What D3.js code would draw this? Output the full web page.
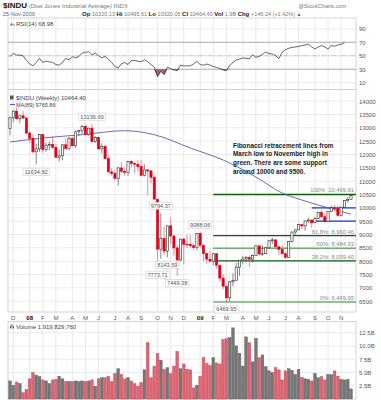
<!DOCTYPE html>
<html>
<head>
<meta charset="utf-8">
<script src="https://cdnjs.cloudflare.com/ajax/libs/d3/7.8.5/d3.min.js"></script>
<style>
    body { margin: 0; background: #fff; }
    svg { display: block; font-family: "Liberation Sans", Arial, sans-serif; }
    .axis-label { font-size: 6px; fill: #555; }
    .legend { font-size: 6px; fill: #444; }
</style>
</head>
<body>
<svg id="chart" width="381" height="400"></svg>
<script>
const weeks = [
    '2007-11-26', '2007-12-03', '2007-12-10', '2007-12-17', '2007-12-24', '2007-12-31',
    '2008-01-07', '2008-01-14', '2008-01-21', '2008-01-28', '2008-02-04', '2008-02-11', '2008-02-18', '2008-02-25',
    '2008-03-03', '2008-03-10', '2008-03-17', '2008-03-24', '2008-03-31', '2008-04-07', '2008-04-14', '2008-04-21',
    '2008-04-28', '2008-05-05', '2008-05-12', '2008-05-19', '2008-05-26', '2008-06-02', '2008-06-09', '2008-06-16',
    '2008-06-23', '2008-06-30', '2008-07-07', '2008-07-14', '2008-07-21', '2008-07-28', '2008-08-04', '2008-08-11',
    '2008-08-18', '2008-08-25', '2008-09-01', '2008-09-08', '2008-09-15', '2008-09-22', '2008-09-29', '2008-10-06',
    '2008-10-13', '2008-10-20', '2008-10-27', '2008-11-03', '2008-11-10', '2008-11-17', '2008-11-24', '2008-12-01',
    '2008-12-08', '2008-12-15', '2008-12-22', '2008-12-29',
    '2009-01-05', '2009-01-12', '2009-01-19', '2009-01-26', '2009-02-02', '2009-02-09', '2009-02-16', '2009-02-23',
    '2009-03-02', '2009-03-09', '2009-03-16', '2009-03-23', '2009-03-30', '2009-04-06', '2009-04-13', '2009-04-20',
    '2009-04-27', '2009-05-04', '2009-05-11', '2009-05-18', '2009-05-25', '2009-06-01', '2009-06-08', '2009-06-15',
    '2009-06-22', '2009-06-29', '2009-07-06', '2009-07-13', '2009-07-20', '2009-07-27', '2009-08-03', '2009-08-10',
    '2009-08-17', '2009-08-24', '2009-08-31', '2009-09-07', '2009-09-14', '2009-09-21', '2009-09-28', '2009-10-05',
    '2009-10-12', '2009-10-19', '2009-10-26', '2009-11-02', '2009-11-09', '2009-11-16', '2009-11-23'
];

const opens = [
    12980, 13372, 13625, 13339, 13450, 13366,
    12800, 12606, 12099, 12207, 12743, 12182, 12348, 12381, 12266, 11894, 11951, 12361, 12216, 12609, 12325, 12849,
    12891, 13058, 12745, 12986, 12480, 12638, 12210, 12307, 11843, 11346, 11289, 11100, 11496, 11370, 11326, 11734,
    11659, 11628, 11543, 11220, 11421, 11388, 11143, 10325, 8451, 8852, 8378, 9325, 8943, 8497, 8046, 8829,
    8635, 8629, 8579, 8515,
    9034, 8599, 8281, 8077, 8001, 8280, 7850, 7366, 7062, 6627, 7224, 7279, 7776, 8018, 8083, 8131,
    8076, 8212, 8575, 8268, 8277, 8500, 8764, 8799, 8539, 8438, 8280, 8146, 8743, 9093, 9172, 9370,
    9321, 9505, 9544, 9441, 9605, 9820, 9665, 9488, 9865, 9996, 9972, 9713, 10023, 10270, 10320.13
];
const highs = [
    13420, 13660, 13750, 13460, 13630, 13400,
    12880, 12750, 12400, 12770, 12760, 12440, 12480, 12700, 12400, 12190, 12400, 12620, 12660, 12640, 12900, 12930,
    13100, 13100, 13000, 13136.69, 12690, 12660, 12410, 12350, 11990, 11490, 11420, 11530, 11700, 11500, 11750, 11810,
    11700, 11790, 11790, 11630, 11430, 11400, 11200, 10330, 9794.37, 9300, 9330, 9650, 9000, 8600, 8840, 8860,
    9000, 8980, 8680, 9050,
    9088.06, 8620, 8300, 8400, 8300, 8310, 7870, 7500, 7070, 7250, 7550, 7930, 8020, 8200, 8200, 8200,
    8240, 8600, 8600, 8590, 8550, 8800, 8880, 8820, 8560, 8600, 8330, 8760, 9100, 9200, 9400, 9400,
    9540, 9630, 9550, 9650, 9860, 9920, 9790, 9880, 10090, 10120, 10090, 10050, 10290, 10410, 10495.61
];
const lows = [
    12720, 13220, 13300, 13170, 13330, 12780,
    12440, 12050, 11634.82, 12100, 12060, 12100, 12160, 12230, 11900, 11730, 11780, 12190, 12170, 12300, 12240, 12700,
    12770, 12700, 12700, 12450, 12430, 12180, 12040, 11800, 11330, 11200, 11050, 10827, 11300, 11200, 11200, 11520,
    11300, 11370, 11180, 11180, 10460, 10920, 10370, 7773.71, 8090, 8250, 8143.59, 8650, 8200, 7449.38, 8000, 7880,
    8500, 8500, 8420, 8400,
    8500, 8000, 7900, 7950, 7850, 7720, 7230, 6950, 6469.95, 6500, 7050, 7260, 7450, 7880, 7950, 7780,
    7930, 8200, 8220, 8200, 8270, 8480, 8650, 8480, 8220, 8240, 8090, 8140, 8700, 8970, 9170, 9200,
    9140, 9430, 9250, 9430, 9570, 9650, 9430, 9480, 9850, 9870, 9670, 9680, 10010, 10190, 10320.05
];
const closes = [
    13372, 13625, 13339, 13450, 13366, 12800,
    12606, 12099, 12207, 12743, 12182, 12348, 12381, 12266, 11894, 11951, 12361, 12216, 12609, 12325, 12849, 12891,
    13058, 12745, 12986, 12480, 12638, 12210, 12307, 11843, 11346, 11289, 11100, 11496, 11370, 11326, 11734, 11659,
    11628, 11543, 11220, 11421, 11388, 11143, 10325, 8451, 8852, 8378, 9325, 8943, 8497, 8046, 8829, 8635,
    8629, 8579, 8515, 9034,
    8599, 8281, 8077, 8001, 8280, 7850, 7366, 7062, 6627, 7224, 7279, 7776, 8018, 8083, 8131, 8076,
    8212, 8575, 8268, 8277, 8500, 8764, 8799, 8539, 8438, 8280, 8146, 8743, 9093, 9172, 9370, 9321,
    9505, 9544, 9441, 9605, 9820, 9665, 9488, 9865, 9996, 9972, 9713, 10023, 10270, 10318, 10464.40
];

// weekly volume, billions of shares
const volumes = [
    3.4, 2.6, 3.2, 2.9, 1.2, 1.8,
    3.8, 5.0, 4.5, 4.2, 3.6, 3.4, 2.9, 3.6, 3.7, 4.3, 3.8, 3.3, 3.3, 3.3, 3.4, 3.3,
    3.4, 3.3, 3.4, 3.6, 2.4, 3.8, 4.0, 4.0, 4.3, 3.3, 4.8, 5.7, 4.6, 3.8, 4.0, 3.4,
    2.9, 2.4, 3.1, 5.5, 10.6, 4.0, 6.2, 8.6, 7.3, 5.6, 5.9, 4.8, 6.2, 9.0, 5.7, 6.6,
    5.6, 5.5, 2.1, 2.6,
    4.3, 7.8, 6.7, 6.3, 7.8, 6.8, 6.6, 11.2, 11.4, 11.6, 13.4, 10.0, 8.6, 6.2, 11.7, 10.6,
    7.0, 11.4, 7.8, 8.3, 6.1, 5.3, 5.0, 5.9, 5.5, 3.6, 5.3, 5.7, 5.4, 4.6, 5.6, 4.1,
    3.8, 3.7, 3.4, 4.8, 4.0, 4.2, 3.6, 4.6, 4.6, 5.3, 4.3, 3.7, 3.6, 3.7, 1.9
];

const rsiValues = [
    48.7, 53.7, 51, 51, 50, 43,
    38, 35, 40, 46, 40, 42, 41, 40, 37, 36, 40, 46, 44, 48.7, 47, 49,
    54, 55, 56, 51, 54, 50, 47, 49, 45, 40, 34, 32, 38, 40, 37, 43,
    43, 42, 41, 44, 41, 37, 33, 19, 27, 22, 33, 31, 29, 28, 36, 35,
    35, 35, 38, 41.7,
    37, 36, 37.8, 36, 34, 32.8, 31, 29, 28, 35.8, 40, 43.7, 45, 46.7, 46, 45.7,
    51.6, 47.7, 49, 52, 55.6, 53, 52.6, 50, 45.7, 55, 59, 61, 62.5, 63, 63.9, 65,
    66, 67, 63, 60, 63, 65, 63, 60, 65.5, 64, 66, 67, 68.98
];

// MA(89)
const maWeeks = ['2007-11-26', '2008-02-04', '2008-04-28', '2008-07-28', '2008-09-29', '2008-12-15',
    '2009-02-23', '2009-05-04', '2009-06-29', '2009-08-10', '2009-09-14', '2009-11-23'];
const maValues = [12467, 12617, 12741, 12891, 12741, 12242, 11792, 11155, 10555, 10293, 10105, 9765.86];

const peakWeeks = [25, 46, 58];
const troughWeeks = [8, 45, 48, 51, 66];

const fibPct = ['0%', '38.2%', '50%', '61.8%', '100%'];
const fibValues = [6469.95, 8009.40, 8484.93, 8960.46, 10499.91];
const fibStart = '2009-02-02';
const supportLevels = [10000, 9500];
const supportStart = '2009-08-31';

const priceTicks = [6500, 7000, 7500, 8000, 8500, 9000, 9500, 10000, 10500, 11000, 11500, 12000, 12500, 13000, 13500, 14000];
const rsiTicks = [10, 30, 50, 70, 90];
const volTicks = [2.5, 5.0, 7.5, 10.0, 12.5];

const note = [
    'Fibonacci retracement lines from',
    'March low to November high in',
    'green. There are some support',
    'around 10000 and 9500.'
];

const LEFT = 8;
const RIGHT = 356;
const RED = '#e2001a';
const INK = '#2a2a2a';

const svg = d3.select('#chart');

const x = d3.scalePoint().domain(weeks).range([10, 351]);
const yRsi = d3.scaleLinear().domain([0, 100]).range([89.5, 22]);
const yPrice = d3.scaleLinear().domain([6095, 14435]).range([312, 89.5]);
const yVol = d3.scaleLinear().domain([0, 14.6]).range([399, 321.5]);

const monthStarts = weeks.filter((w, i) => i > 0 && w.slice(5, 7) !== weeks[i - 1].slice(5, 7));
const parse = d3.timeParse('%Y-%m-%d');

function panel(top, bottom, scale, ticks) {
    const g = svg.append('g');
    g.append('rect')
        .attr('x', LEFT).attr('y', top)
        .attr('width', RIGHT - LEFT).attr('height', bottom - top)
        .attr('fill', '#fff').attr('stroke', '#c8c8c8').attr('stroke-width', 0.8);
    g.selectAll('line.vgrid')
        .data(monthStarts)
        .join('line')
        .attr('x1', d => x(d)).attr('x2', d => x(d))
        .attr('y1', top).attr('y2', bottom)
        .attr('stroke', '#e2e2e2').attr('stroke-width', 0.8);
    g.selectAll('line.hgrid')
        .data(ticks)
        .join('line')
        .attr('x1', LEFT).attr('x2', RIGHT)
        .attr('y1', d => scale(d)).attr('y2', d => scale(d))
        .attr('stroke', '#e6e6e6').attr('stroke-width', 0.8);
    return g;
}

function rightAxis(scale, ticks, fmt) {
    svg.append('g')
        .attr('transform', `translate(${RIGHT},0)`)
        .call(d3.axisRight(scale).tickValues(ticks).tickSize(0).tickPadding(3).tickFormat(fmt))
        .call(g => g.select('.domain').remove())
        .call(g => g.selectAll('text').attr('class', 'axis-label').attr('font-family', null).attr('font-size', null));
}

// header
const head = svg.append('g');
head.append('text').attr('x', 3).attr('y', 8)
    .style('font-size', '8px')
    .call(t => t.append('tspan').attr('font-weight', 'bold').attr('fill', '#111').text('$INDU'))
    .call(t => t.append('tspan').attr('fill', '#777').style('font-size', '6px').text(' (Dow Jones Industrial Average) INDX'));
head.append('text').attr('x', 346).attr('y', 7.5).attr('text-anchor', 'end')
    .attr('fill', '#777').style('font-size', '5.5px').text('@StockCharts.com');

const quote = [['Op', '10320.13'], ['Hi', '10495.61'], ['Lo', '10320.05'], ['Cl', '10464.40'], ['Vol', '1.9B'], ['Chg', '+146.24 (+1.42%)']];
head.append('text').attr('x', 3).attr('y', 16).attr('fill', '#666').style('font-size', '5.5px').text('25-Nov-2009');
const qt = head.append('text').attr('x', 82).attr('y', 16).style('font-size', '6px');
quote.forEach(([k, v]) => {
    qt.append('tspan').attr('font-weight', 'bold').attr('fill', '#222').text(k + ' ');
    qt.append('tspan').attr('fill', '#777').style('font-size', '5.5px').text(v + '  ');
});
qt.append('tspan').attr('fill', '#1a9a1a').style('font-size', '5px').text('\u25B2');

// RSI panel
panel(18, 89.5, yRsi, rsiTicks);
svg.selectAll('line.rsi-level')
    .data([70, 30])
    .join('line')
    .attr('x1', LEFT).attr('x2', RIGHT)
    .attr('y1', d => yRsi(d)).attr('y2', d => yRsi(d))
    .attr('stroke', '#a8a8a8').attr('stroke-width', 0.9);
svg.append('line')
    .attr('x1', LEFT).attr('x2', RIGHT)
    .attr('y1', yRsi(50)).attr('y2', yRsi(50))
    .attr('stroke', '#bdbdbd').attr('stroke-width', 0.8).attr('stroke-dasharray', '5,1.5,1.5,1.5');
svg.append('path')
    .datum(rsiValues)
    .attr('fill', '#a06262')
    .attr('d', d3.area()
        .x((d, i) => x(weeks[i]))
        .y0(yRsi(30))
        .y1(d => yRsi(Math.min(d, 30))));
svg.append('path')
    .datum(rsiValues)
    .attr('fill', 'none').attr('stroke', '#222').attr('stroke-width', 0.7)
    .attr('d', d3.line().x((d, i) => x(weeks[i])).y(d => yRsi(d)));
rightAxis(yRsi, rsiTicks, d3.format('d'));
svg.append('path').attr('d', 'M10,25.5 l1.5,-3 l1.5,3 l1.5,-2 v2 z').attr('fill', '#666');
svg.append('text').attr('class', 'legend').attr('x', 16).attr('y', 26)
    .text(`RSI(14) ${rsiValues[rsiValues.length - 1].toFixed(2)}`);

// price panel
panel(89.5, 312, yPrice, priceTicks);

svg.selectAll('line.fib')
    .data(fibValues)
    .join('line')
    .attr('x1', x(fibStart)).attr('x2', RIGHT)
    .attr('y1', d => yPrice(d)).attr('y2', d => yPrice(d))
    .attr('stroke', (d, i) => fibPct[i] === '50%' || fibPct[i] === '0%' ? '#74ad74' : '#0b5f0b')
    .attr('stroke-width', 1.3);
svg.selectAll('text.fib')
    .data(fibValues)
    .join('text')
    .attr('x', RIGHT - 2).attr('y', d => yPrice(d) - 2)
    .attr('text-anchor', 'end')
    .attr('fill', '#8a8a8a').style('font-size', '5.8px')
    .text((d, i) => `${fibPct[i]}: ${d3.format(',.2f')(d)}`);

svg.selectAll('line.support')
    .data(supportLevels)
    .join('line')
    .attr('x1', x(supportStart)).attr('x2', RIGHT)
    .attr('y1', d => yPrice(d)).attr('y2', d => yPrice(d))
    .attr('stroke', '#1f2fd6').attr('stroke-width', 1.2);

svg.append('path')
    .datum(maValues)
    .attr('fill', 'none').attr('stroke', '#5a5aac').attr('stroke-width', 0.9)
    .attr('d', d3.line().curve(d3.curveMonotoneX).x((d, i) => x(maWeeks[i])).y(d => yPrice(d)));

const candles = svg.append('g');
weeks.forEach((w, i) => {
    const up = i === 0 ? closes[i] >= opens[i] : closes[i] >= closes[i - 1];
    const color = up ? INK : RED;
    const filled = closes[i] < opens[i];
    candles.append('line')
        .attr('x1', x(w)).attr('x2', x(w))
        .attr('y1', yPrice(highs[i])).attr('y2', yPrice(lows[i]))
        .attr('stroke', up ? '#555' : '#e55a6a').attr('stroke-width', 0.7);
    const top = yPrice(Math.max(opens[i], closes[i]));
    const bottom = yPrice(Math.min(opens[i], closes[i]));
    candles.append('rect')
        .attr('x', x(w) - 1.1).attr('y', top)
        .attr('width', 2.2).attr('height', Math.max(bottom - top, 0.6))
        .attr('fill', filled ? color : '#fff')
        .attr('stroke', color).attr('stroke-width', 0.6);
});

function priceTag(i, value, dy) {
    const label = value.toFixed(2);
    const cx = x(weeks[i]);
    const cy = yPrice(value) + dy;
    const w = label.length * 3.05 + 2;
    svg.append('rect')
        .attr('x', cx - w / 2).attr('y', cy - 3.6)
        .attr('width', w).attr('height', 7.2)
        .attr('fill', '#fff').attr('stroke', '#c4c4c4').attr('stroke-width', 0.5);
    svg.append('text')
        .attr('x', cx).attr('y', cy + 2)
        .attr('text-anchor', 'middle')
        .attr('fill', '#555').style('font-size', '5.6px')
        .text(label);
}
peakWeeks.forEach(i => priceTag(i, highs[i], -7.5));
troughWeeks.forEach(i => priceTag(i, lows[i], 7.5));

svg.append('g')
    .selectAll('text')
    .data(note)
    .join('text')
    .attr('x', 233).attr('y', (d, i) => 147.5 + i * 8.7)
    .attr('fill', '#1a1a1a').attr('font-weight', 'bold').style('font-size', '6.4px')
    .text(d => d);

rightAxis(yPrice, priceTicks, d3.format('d'));

svg.append('rect').attr('x', 10).attr('y', 95.5).attr('width', 3.5).attr('height', 4).attr('fill', '#555');
svg.append('text').attr('class', 'legend').attr('x', 16).attr('y', 100)
    .text(`$INDU (Weekly) ${closes[closes.length - 1].toFixed(2)}`);
svg.append('line').attr('x1', 10).attr('x2', 15).attr('y1', 104.5).attr('y2', 104.5)
    .attr('stroke', '#5a5aac').attr('stroke-width', 1.2);
svg.append('text').attr('class', 'legend').attr('x', 16).attr('y', 106.5)
    .style('font-size', '5.5px').attr('fill', '#5a5aac')
    .text(`MA(89) ${maValues[maValues.length - 1].toFixed(2)}`);

// month labels
svg.append('g')
    .selectAll('text')
    .data(monthStarts)
    .join('text')
    .attr('x', d => x(d)).attr('y', 320.3)
    .attr('text-anchor', 'middle')
    .attr('fill', d => d.slice(5, 7) === '01' ? '#111' : '#555')
    .attr('font-weight', d => d.slice(5, 7) === '01' ? 'bold' : null)
    .style('font-size', '6px')
    .text(d => d.slice(5, 7) === '01' ? d.slice(2, 4) : d3.timeFormat('%b')(parse(d))[0]);

// volume panel
panel(321.5, 399, yVol, volTicks);
svg.append('g')
    .selectAll('rect')
    .data(volumes)
    .join('rect')
    .attr('x', (d, i) => x(weeks[i]) - 1.35)
    .attr('y', d => yVol(d))
    .attr('width', 2.7)
    .attr('height', d => yVol(0) - yVol(d))
    .attr('fill', (d, i) => (i === 0 ? closes[i] >= opens[i] : closes[i] >= closes[i - 1]) ? '#777' : '#dd6572')
    .attr('stroke', (d, i) => (i === 0 ? closes[i] >= opens[i] : closes[i] >= closes[i - 1]) ? '#555' : '#c24050')
    .attr('stroke-width', 0.4);
rightAxis(yVol, volTicks, d => d.toFixed(1) + 'B');
svg.append('g').attr('fill', '#666')
    .call(g => g.append('rect').attr('x', 10).attr('y', 325.5).attr('width', 1).attr('height', 3))
    .call(g => g.append('rect').attr('x', 11.5).attr('y', 324).attr('width', 1).attr('height', 4.5))
    .call(g => g.append('rect').attr('x', 13).attr('y', 326).attr('width', 1).attr('height', 2.5));
svg.append('text').attr('class', 'legend').attr('x', 16).attr('y', 329)
    .text(`Volume ${d3.format(',')(1919829760)}`);
</script>
</body>
</html>
